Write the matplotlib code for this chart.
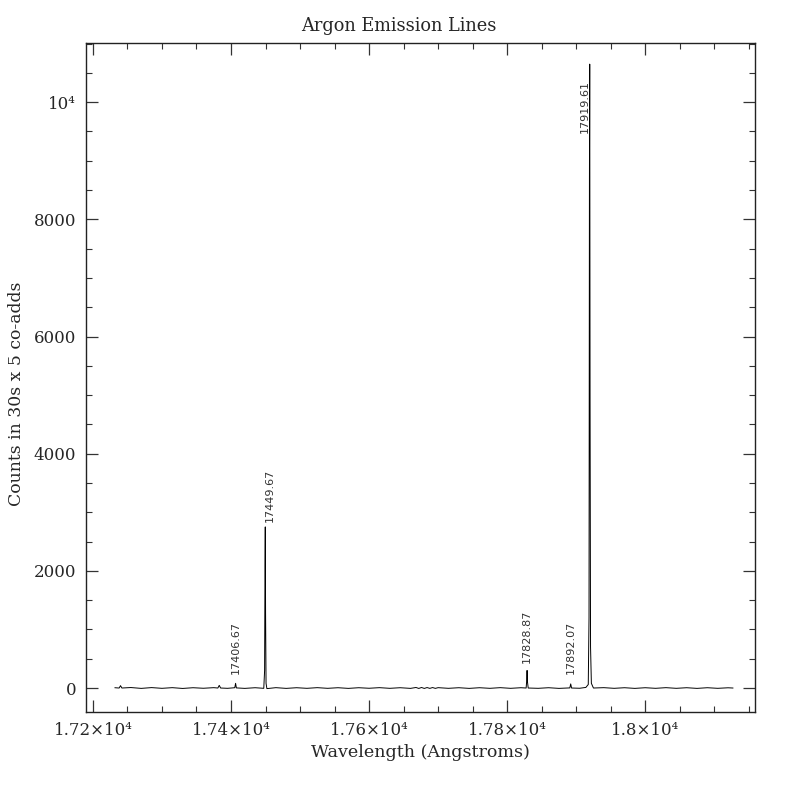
import matplotlib
matplotlib.use("Agg")
import matplotlib.pyplot as plt
from matplotlib.ticker import MultipleLocator

# spectrum nodes (wavelength in Angstroms, counts)
wavelength = [17232, 17238, 17240, 17242, 17255, 17270, 17285, 17300, 17315, 17330,
              17345, 17360, 17375, 17381, 17383, 17385, 17395, 17405.5, 17406.67, 17407.8,
              17420, 17435, 17447.5, 17448.7, 17449.3, 17449.67, 17450.1, 17450.8, 17452, 17465,
              17480, 17495, 17510, 17525, 17540, 17555, 17570, 17585, 17600, 17615,
              17630, 17645, 17660, 17668, 17672, 17676, 17680, 17684, 17688, 17692,
              17696, 17700, 17715, 17730, 17745, 17760, 17775, 17790, 17805, 17820,
              17827.5, 17828.3, 17828.87, 17829.4, 17830.5, 17845, 17860, 17875, 17890.8, 17892.07,
              17893.3, 17905, 17914, 17917.5, 17918.6, 17919.2, 17919.61, 17920.1, 17920.8, 17922,
              17925, 17940, 17955, 17970, 17985, 18000, 18015, 18030, 18045, 18060,
              18075, 18090, 18105, 18120, 18127]
counts = [5, 0, 40, 0, 8, -6, 7, -5, 6, -7,
          5, -4, 6, 0, 45, 0, -5, 5, 80, 2,
          -6, 5, -5, 300, 2100, 2750, 1300, 80, -10, 6,
          -6, 5, -5, 6, -5, 5, -6, 5, -4, 6,
          -5, 5, -6, 9, -7, 9, -7, 8, -6, 8,
          -6, 6, -5, 5, -6, 5, -5, 6, -5, 5,
          0, 120, 300, 110, 0, -5, 5, -6, 2, 70,
          0, -4, 10, 60, 1200, 8700, 10650, 4900, 700, 80,
          0, 6, -5, 5, -6, 5, -5, 6, -5, 5,
          -6, 5, -5, 4, 0]

# identified lines and where their labels sit
line_names = ["17406.67", "17449.67", "17828.87", "17892.07", "17919.61"]
line_wave = [17406.67, 17449.67, 17828.87, 17892.07, 17919.61]
label_y = [240, 2840, 430, 240, 9470]
label_ha = ["center", "left", "center", "center", "right"]

xtick_vals = [17200, 17400, 17600, 17800, 18000]
xtick_labels = ["1.72×10⁴", "1.74×10⁴", "1.76×10⁴", "1.78×10⁴", "1.8×10⁴"]
ytick_vals = [0, 2000, 4000, 6000, 8000, 10000]
ytick_labels = ["0", "2000", "4000", "6000", "8000", "10⁴"]

serif = ["DejaVu Serif"]
ink = "#262626"

fig = plt.figure(figsize=(7.97, 7.97), dpi=100)
ax = fig.add_axes([0.1079, 0.1066, 0.8394, 0.8394])

ax.plot(wavelength, counts, color="black", lw=0.7)

for name, x, y, ha in zip(line_names, line_wave, label_y, label_ha):
    ax.text(x, y, name, rotation=90, ha=ha, va="bottom",
            fontsize=8, family="DejaVu Sans", color="#333333")

ax.set_xlim(17190, 18159)
ax.set_ylim(-410, 11010)

ax.set_xticks(xtick_vals)
ax.set_xticklabels(xtick_labels, family=serif, fontsize=12, color=ink)
ax.set_yticks(ytick_vals)
ax.set_yticklabels(ytick_labels, family=serif, fontsize=12, color=ink)
ax.xaxis.set_minor_locator(MultipleLocator(50))
ax.yaxis.set_minor_locator(MultipleLocator(500))

ax.tick_params(which="both", direction="in", top=True, right=True, color="#333333")
ax.tick_params(which="major", length=8.5, width=0.9, pad=7)
ax.tick_params(which="minor", length=4.2, width=0.8)
for s in ax.spines.values():
    s.set_linewidth(1.0)
    s.set_color("#222222")

ax.set_title("Argon Emission Lines", family=serif, fontsize=12.8, pad=9, color=ink)
ax.title.set_x(0.468)
ax.set_xlabel("Wavelength (Angstroms)", family=serif, fontsize=12.6, labelpad=4, color=ink)
ax.set_ylabel("Counts in 30s x 5 co-adds", family=serif, fontsize=12.4, color=ink)
ax.yaxis.set_label_coords(-0.091, 0.475)

fig.savefig("out.png", dpi=100)
